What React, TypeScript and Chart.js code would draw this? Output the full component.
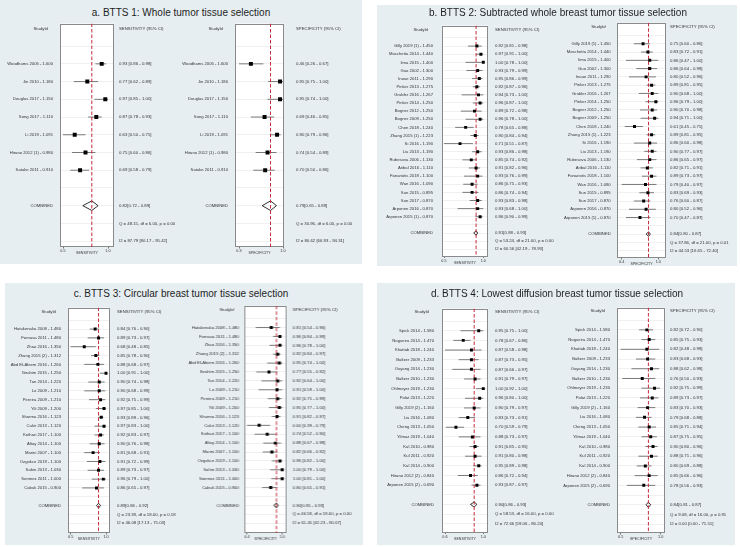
import React, { useEffect, useRef } from "react";
import { Chart, registerables } from "chart.js";
Chart.register(...registerables);

const FONT = "'Liberation Sans', Arial, Helvetica, sans-serif";
const TEXT = "#333333";
const BG = "#e6eef2";

// ---------------- Panel a ----------------
const aStudies = ["Woodhams 2005 - 1.600", "Jin 2010 - 1.180", "Douglas 2017 - 1.150", "Song 2017 - 1.110", "Li 2019 - 1.091", "Hirano 2012 (1) - 0.980", "Satake 2011 - 0.910"];
const aSens = [0.93, 0.77, 0.97, 0.87, 0.63, 0.75, 0.69];
const aSensLo = [0.86, 0.62, 0.85, 0.78, 0.5, 0.6, 0.58];
const aSensHi = [0.98, 0.89, 1.0, 0.93, 0.75, 0.86, 0.79];
const aSpec = [0.46, 0.95, 0.95, 0.69, 0.9, 0.74, 0.7];
const aSpecLo = [0.26, 0.75, 0.74, 0.46, 0.79, 0.54, 0.5];
const aSpecHi = [0.67, 1.0, 1.0, 0.85, 0.96, 0.89, 0.86];
const aSensPooled = [0.82, 0.72, 0.89];
const aSpecPooled = [0.79, 0.65, 0.89];
const aSensStats = ["Q = 48.15, df = 6.00, p = 0.00", "I2 = 87.79 [80.17 - 95.42]"];
const aSpecStats = ["Q = 30.96, df = 6.00, p = 0.00", "I2 = 80.62 [66.93 - 94.31]"];
const aSensTicks = ["0.5", "1.0"];
const aSpecTicks = ["0.3", "1.0"];

// ---------------- Panel b ----------------
const bStudies = ["Gilly 2019 (1) - 1.450", "Moschetta 2014 - 1.440", "Iima 2015 - 1.400", "Guo 2002 - 1.300", "Inoue 2011 - 1.290", "Pinker 2013 - 1.275", "Grubler 2016 - 1.267", "Pinker 2014 - 1.250", "Bogner 2012 - 1.250", "Bogner 2009 - 1.250", "Chen 2018 - 1.240", "Zhang 2015 (1) - 1.223", "Si 2016 - 1.190", "Liu 2013 - 1.190", "Rubesova 2006 - 1.130", "Aribal 2016 - 1.110", "Fanariotis 2018 - 1.100", "Wan 2016 - 1.090", "Sun 2015 - 0.895", "Sun 2017 - 0.870", "Arponen 2016 - 0.870", "Arponen 2015 (1) - 0.870"];
const bSens = [0.92, 0.97, 1.0, 0.93, 0.95, 0.92, 0.94, 0.96, 0.89, 0.96, 0.78, 0.9, 0.71, 0.93, 0.85, 0.91, 0.93, 0.86, 0.86, 0.93, 0.93, 0.96];
const bSensLo = [0.81, 0.91, 0.78, 0.79, 0.86, 0.87, 0.73, 0.87, 0.72, 0.78, 0.65, 0.84, 0.51, 0.86, 0.74, 0.82, 0.76, 0.75, 0.74, 0.83, 0.68, 0.9];
const bSensHi = [0.98, 1.0, 1.0, 0.99, 0.99, 0.96, 1.0, 1.0, 0.98, 1.0, 0.88, 0.94, 0.87, 0.98, 0.92, 0.96, 0.99, 0.93, 0.94, 0.98, 1.0, 0.99];
const bSpec = [0.75, 0.83, 0.86, 0.86, 0.8, 0.89, 0.9, 0.96, 0.9, 0.94, 0.61, 0.89, 0.86, 0.9, 0.86, 0.82, 0.89, 0.79, 0.83, 0.76, 0.8, 0.7];
const bSpecLo = [0.6, 0.72, 0.47, 0.64, 0.52, 0.81, 0.68, 0.79, 0.7, 0.71, 0.45, 0.81, 0.6, 0.77, 0.65, 0.71, 0.73, 0.4, 0.69, 0.6, 0.52, 0.47];
const bSpecHi = [0.86, 0.91, 1.0, 0.98, 0.96, 0.95, 1.0, 1.0, 0.98, 1.0, 0.75, 0.95, 0.98, 0.97, 0.97, 0.91, 0.97, 0.97, 0.93, 0.87, 0.96, 0.87];
const bSensPooled = [0.91, 0.88, 0.93];
const bSpecPooled = [0.84, 0.8, 0.87];
const bSensStats = ["Q = 53.24, df = 21.00, p = 0.00", "I2 = 60.56 [42.19 - 78.93]"];
const bSpecStats = ["Q = 37.86, df = 21.00, p = 0.01", "I2 = 44.53 [16.65 - 72.40]"];
const bSensTicks = ["0.5", "1.0"];
const bSpecTicks = ["0.4", "1.0"];

// ---------------- Panel c ----------------
const cStudies = ["Hatakenaka 2008 - 1.480", "Fornasa 2011 - 1.480", "Zhao 2016 - 1.350", "Zhang 2015 (2) - 1.312", "Abd El-Aleem 2016 - 1.260", "Ibrahim 2015 - 1.250", "Tan 2014 - 1.220", "Lo 2009 - 1.210", "Pereira 2009 - 1.210", "Yili 2009 - 1.200", "Sharma 2016 - 1.123", "Cakir 2013 - 1.120", "Kothari 2017 - 1.100", "Altay 2014 - 1.100", "Marini 2007 - 1.100", "Ozgokce 2019 - 1.100", "Sahin 2013 - 1.030", "Sonmez 2011 - 1.000", "Cabuk 2015 - 0.900"];
const cSens = [0.84, 0.89, 0.68, 0.85, 0.88, 1.0, 0.9, 0.9, 0.92, 0.97, 0.93, 0.97, 0.92, 0.9, 0.81, 0.91, 0.89, 0.96, 0.86];
const cSensLo = [0.76, 0.73, 0.48, 0.78, 0.68, 0.91, 0.74, 0.68, 0.75, 0.85, 0.89, 0.83, 0.83, 0.76, 0.68, 0.72, 0.73, 0.79, 0.65];
const cSensHi = [0.9, 0.97, 0.85, 0.9, 0.97, 1.0, 0.98, 0.99, 0.99, 1.0, 0.96, 1.0, 0.97, 0.98, 0.91, 0.99, 0.97, 1.0, 0.97];
const cSpec = [0.81, 0.96, 0.96, 0.92, 0.95, 0.77, 0.92, 0.91, 0.92, 0.95, 0.91, 0.6, 0.74, 0.88, 0.82, 0.96, 1.0, 1.0, 0.8];
const cSpecLo = [0.54, 0.84, 0.78, 0.84, 0.74, 0.55, 0.64, 0.59, 0.75, 0.77, 0.82, 0.39, 0.52, 0.67, 0.66, 0.82, 0.79, 0.81, 0.65];
const cSpecHi = [0.96, 0.99, 1.0, 0.97, 1.0, 0.92, 1.0, 1.0, 0.99, 1.0, 0.97, 0.79, 0.9, 0.98, 0.92, 1.0, 1.0, 1.0, 0.91];
const cSensPooled = [0.89, 0.86, 0.92];
const cSpecPooled = [0.9, 0.85, 0.93];
const cSensStats = ["Q = 23.39, df = 18.00, p = 0.18", "I2 = 46.08 [17.13 - 75.03]"];
const cSpecStats = ["Q = 46.58, df = 18.00, p = 0.00", "I2 = 61.45 [42.23 - 80.67]"];
const cSensTicks = ["0.5", "1.0"];
const cSpecTicks = ["0.4", "1.0"];

// ---------------- Panel d ----------------
const dStudies = ["Spick 2014 - 1.580", "Nogueira 2014 - 1.470", "Khattab 2018 - 1.240", "Baltzer 2009 - 1.233", "Ouyang 2014 - 1.230", "Baltzer 2010 - 1.230", "Ohlmeyer 2019 - 1.230", "Polat 2013 - 1.220", "Gilly 2019 (2) - 1.160", "Liu 2016 - 1.080", "Cheng 2013 - 1.050", "Yilmaz 2019 - 1.040", "Kul 2010 - 0.980", "Kul 2011 - 0.920", "Kul 2014 - 0.900", "Hirano 2012 (2) - 0.840", "Arponen 2015 (2) - 0.690"];
const dSens = [0.95, 0.78, 0.87, 0.87, 0.87, 0.91, 1.0, 0.96, 0.9, 0.83, 0.7, 0.88, 0.91, 0.91, 0.95, 0.86, 0.93];
const dSensLo = [0.75, 0.67, 0.58, 0.73, 0.66, 0.79, 0.92, 0.8, 0.79, 0.73, 0.59, 0.73, 0.85, 0.8, 0.89, 0.72, 0.87];
const dSensHi = [1.0, 0.86, 0.98, 0.95, 0.97, 0.97, 1.0, 1.0, 0.97, 0.91, 0.79, 0.97, 0.95, 0.98, 0.98, 0.94, 0.97];
const dSpec = [0.82, 0.85, 0.82, 0.83, 0.88, 0.76, 0.92, 0.89, 0.83, 0.79, 0.85, 0.87, 0.9, 0.88, 0.8, 0.85, 0.78];
const dSpecLo = [0.72, 0.75, 0.48, 0.68, 0.62, 0.5, 0.75, 0.73, 0.7, 0.68, 0.71, 0.75, 0.8, 0.71, 0.69, 0.66, 0.56];
const dSpecHi = [0.9, 0.93, 0.98, 0.93, 0.98, 0.93, 0.99, 0.97, 0.93, 0.88, 0.94, 0.95, 0.96, 0.96, 0.88, 0.96, 0.93];
const dSensPooled = [0.9, 0.86, 0.93];
const dSpecPooled = [0.84, 0.81, 0.87];
const dSensStats = ["Q = 58.53, df = 16.00, p = 0.00", "I2 = 72.66 [59.06 - 86.24]"];
const dSpecStats = ["Q = 9.08, df = 16.00, p = 0.91", "I2 = 0.00 [0.00 - 71.51]"];
const dSensTicks = ["0.6", "1.0"];
const dSpecTicks = ["0.5", "1.0"];

type Half = {
  studies: string[]; est: number[]; lo: number[]; hi: number[];
  pooled: number[]; stats: string[]; tickLabels: string[];
  header: string; axisTitle: string;
  boxL: number; boxR: number; t0: number; t1: number; textX: number; labelRight: number;
};
type Panel = {
  title: string; titleX: number; titleY: number; bg: number[];
  boxTop: number; boxBottom: number; headerY: number; lastY: number; markR: number;
  sens: Half; spec: Half;
};

const mkHalf = (kind: "SENSITIVITY" | "SPECIFICITY", studies: string[], est: number[], lo: number[], hi: number[], pooled: number[], stats: string[], tickLabels: string[], lay: number[]): Half => ({
  studies, est, lo, hi, pooled, stats, tickLabels, header: `${kind} (95% CI)`, axisTitle: kind,
  boxL: lay[0], boxR: lay[1], t0: lay[2], t1: lay[3], textX: lay[4], labelRight: lay[5],
});

const panels: Panel[] = [
  {
    title: "a. BTTS 1: Whole tumor tissue selection", titleX: 181, titleY: 13.5, bg: [0, 0, 362, 264],
    boxTop: 18, boxBottom: 247, headerY: 23, lastY: 241, markR: 2.8,
    sens: mkHalf("SENSITIVITY", aStudies, aSens, aSensLo, aSensHi, aSensPooled, aSensStats, aSensTicks, [60, 114, 63, 108, 119, 53]),
    spec: mkHalf("SPECIFICITY", aStudies, aSpec, aSpecLo, aSpecHi, aSpecPooled, aSpecStats, aSpecTicks, [235, 284, 239, 283, 296, 228]),
  },
  {
    title: "b. BTTS 2: Subtracted whole breast tumor tissue selection", titleX: 558, titleY: 14.3, bg: [377, 5, 360, 261],
    boxTop: 18, boxBottom: 258, headerY: 22.5, lastY: 250.5, markR: 2.1,
    sens: mkHalf("SENSITIVITY", bStudies, bSens, bSensLo, bSensHi, bSensPooled, bSensStats, bSensTicks, [442, 488, 444, 483.3, 495, 433]),
    spec: mkHalf("SPECIFICITY", bStudies, bSpec, bSpecLo, bSpecHi, bSpecPooled, bSpecStats, bSpecTicks, [617, 666, 621.7, 658.3, 670, 610.7]),
  },
  {
    title: "c. BTTS 3: Circular breast tumor tissue selection", titleX: 181, titleY: 295, bg: [5, 283, 358, 262],
    boxTop: 302, boxBottom: 533, headerY: 306, lastY: 523, markR: 2.1,
    sens: mkHalf("SENSITIVITY", cStudies, cSens, cSensLo, cSensHi, cSensPooled, cSensStats, cSensTicks, [68, 110, 70.7, 106.3, 117.3, 61]),
    spec: mkHalf("SPECIFICITY", cStudies, cSpec, cSpecLo, cSpecHi, cSpecPooled, cSpecStats, cSpecTicks, [244, 287, 246.7, 282.3, 292.7, 238.7]),
  },
  {
    title: "d. BTTS 4: Lowest diffusion breast tumor tissue selection", titleX: 557, titleY: 295, bg: [377, 283, 358, 262],
    boxTop: 302, boxBottom: 533, headerY: 305, lastY: 524, markR: 2.1,
    sens: mkHalf("SENSITIVITY", dStudies, dSens, dSensLo, dSensHi, dSensPooled, dSensStats, dSensTicks, [442, 488, 445, 483.3, 495, 434]),
    spec: mkHalf("SPECIFICITY", dStudies, dSpec, dSpecLo, dSpecHi, dSpecPooled, dSpecStats, dSpecTicks, [617, 665, 620.7, 660.7, 670, 610]),
  },
];

const f2 = (v: number) => v.toFixed(2);

function ForestHalf({ h, p }: { h: Half; p: Panel }) {
  const ref = useRef<HTMLCanvasElement | null>(null);
  const yW = 66;
  const cl = h.boxL - yW;
  const cr = h.textX + 72;
  const ct = p.boxTop - 4;
  const cb = p.boxBottom + 10;
  const W = cr - cl;
  const H = cb - ct;

  useEffect(() => {
    const n = h.studies.length;
    const nRows = n + 6;
    const rowH = (p.lastY - p.headerY) / (nRows - 1);
    const yMin = (p.boxTop - p.headerY) / rowH;
    const yMax = (p.boxBottom - p.headerY) / rowH;
    const loTick = Math.min(...h.lo);
    const ppu = (h.t1 - h.t0) / (1 - loTick);
    const xMin = loTick - (h.t0 - h.boxL) / ppu;
    const xMax = 1 + (h.boxR - h.t1) / ppu;
    const yLabels = ["", "", ...h.studies, "", "COMBINED", "", ""];

    const ciData: any[] = [];
    h.studies.forEach((_, i) => {
      ciData.push({ x: h.lo[i], y: i + 2 }, { x: h.hi[i], y: i + 2 }, { x: null, y: null });
    });
    const ptData = h.est.map((v, i) => ({ x: v, y: i + 2 }));
    const cRow = n + 3;
    const dh = 0.27;
    const [pe, pl, ph] = h.pooled;
    const diamond = [
      { x: pl, y: cRow }, { x: pe, y: cRow - dh }, { x: ph, y: cRow }, { x: pe, y: cRow + dh }, { x: pl, y: cRow },
    ];
    const refLine = [{ x: pe, y: yMin }, { x: pe, y: yMax }];
    const valueTexts = h.est.map((v, i) => `${f2(v)} [${f2(h.lo[i])} - ${f2(h.hi[i])}]`);
    const pooledText = `${f2(pe)}[${f2(pl)} - ${f2(ph)}]`;
    const gap = h.boxL - h.labelRight;

    const textPlugin = {
      id: "forestText",
      beforeDraw(chart: any) {
        const { ctx, chartArea: ca } = chart;
        ctx.save();
        ctx.fillStyle = "#ffffff";
        ctx.fillRect(ca.left, ca.top, ca.right - ca.left, ca.bottom - ca.top);
        ctx.restore();
      },
      beforeDatasetsDraw(chart: any) {
        const { ctx, chartArea: ca } = chart;
        ctx.save();
        ctx.strokeStyle = "#8a8a8a";
        ctx.lineWidth = 1;
        ctx.strokeRect(Math.round(ca.left) + 0.5, Math.round(ca.top) + 0.5, Math.round(ca.right - ca.left) - 1, Math.round(ca.bottom - ca.top) - 1);
        ctx.restore();
      },
      afterDraw(chart: any) {
        const { ctx, chartArea: ca } = chart;
        const ys = chart.scales.y;
        ctx.save();
        ctx.font = `4.3px ${FONT}`;
        ctx.fillStyle = TEXT;
        ctx.textBaseline = "middle";
        ctx.textAlign = "left";
        const tx = ca.right + (h.textX - h.boxR);
        ctx.fillText(h.header, tx, ys.getPixelForValue(0));
        valueTexts.forEach((t, i) => ctx.fillText(t, tx, ys.getPixelForValue(i + 2)));
        ctx.fillText(pooledText, tx, ys.getPixelForValue(n + 3));
        ctx.fillText(h.stats[0], tx, ys.getPixelForValue(n + 4));
        ctx.fillText(h.stats[1], tx, ys.getPixelForValue(n + 5));
        ctx.textAlign = "right";
        ctx.fillText("StudyId", ca.left - gap - 5, ys.getPixelForValue(0));
        ctx.restore();
      },
    };

    const chart = new Chart(ref.current as HTMLCanvasElement, {
      type: "scatter",
      data: {
        datasets: [
          { type: "scatter", data: ptData, pointStyle: "rect", pointRadius: p.markR, backgroundColor: "#000000", borderColor: "#000000", borderWidth: 0 } as any,
          { type: "line", data: refLine, borderColor: "#c62a3c", borderWidth: 1, borderDash: [3.5, 2], pointRadius: 0, fill: false } as any,
          { type: "line", data: diamond, borderColor: "#1a1a1a", borderWidth: 0.9, pointRadius: 0, fill: false, tension: 0 } as any,
          { type: "line", data: ciData, borderColor: "#5a5a5a", borderWidth: 0.8, pointRadius: 0, spanGaps: false, fill: false } as any,
        ],
      },
      options: {
        responsive: false,
        animation: false,
        devicePixelRatio: 1,
        events: [],
        layout: { padding: { left: 0, right: W - (h.boxR - cl), top: p.boxTop - ct, bottom: 0 } },
        plugins: { legend: { display: false }, tooltip: { enabled: false } },
        scales: {
          x: {
            type: "linear",
            min: xMin,
            max: xMax,
            afterBuildTicks: (axis: any) => { axis.ticks = [{ value: loTick }, { value: 1 }]; },
            afterFit: (axis: any) => { axis.height = cb - p.boxBottom; },
            grid: { drawOnChartArea: false, drawTicks: true, tickLength: 1.5, color: "#777777" },
            border: { display: false },
            ticks: {
              autoSkip: false, maxRotation: 0, padding: 0.3, color: TEXT,
              font: { family: FONT, size: 3.8 },
              callback: (_v: any, i: number) => h.tickLabels[i],
            },
            title: { display: true, text: h.axisTitle, color: TEXT, font: { family: FONT, size: 3.6 }, padding: { top: 0, bottom: 1.8 } },
          },
          y: {
            type: "linear",
            reverse: true,
            min: yMin,
            max: yMax,
            afterBuildTicks: (axis: any) => { axis.ticks = yLabels.map((_, i) => ({ value: i })); },
            afterFit: (axis: any) => { axis.width = yW; },
            grid: {
              drawTicks: false,
              lineWidth: 0.6,
              color: (c: any) => (c.tick && c.tick.value === 0 ? "rgba(0,0,0,0)" : "#e6e6e6"),
            },
            border: { display: false },
            ticks: {
              autoSkip: false, padding: gap, color: TEXT,
              font: { family: FONT, size: 4.2 },
              callback: (_v: any, i: number) => yLabels[i],
            },
          },
        },
      },
      plugins: [textPlugin],
    } as any);
    return () => chart.destroy();
  }, []);

  return (
    <canvas
      ref={ref}
      width={W}
      height={H}
      style={{ position: "absolute", left: cl, top: ct, width: W, height: H }}
    />
  );
}

function PanelView({ p }: { p: Panel }) {
  return (
    <>
      <div style={{ position: "absolute", left: p.bg[0], top: p.bg[1], width: p.bg[2], height: p.bg[3], background: BG }} />
      <div
        style={{
          position: "absolute", left: p.titleX - 200, top: p.titleY - 7, width: 400, height: 14,
          lineHeight: "14px", textAlign: "center", font: `10px ${FONT}`, color: "#1e1e1e", whiteSpace: "nowrap",
        }}
      >
        {p.title}
      </div>
      <ForestHalf h={p.sens} p={p} />
      <ForestHalf h={p.spec} p={p} />
    </>
  );
}

export default function App() {
  return (
    <div style={{ position: "absolute", left: 0, top: 0, width: 740, height: 547, background: "#ffffff", overflow: "hidden" }}>
      {panels.map((p, i) => (
        <PanelView key={i} p={p} />
      ))}
    </div>
  );
}
